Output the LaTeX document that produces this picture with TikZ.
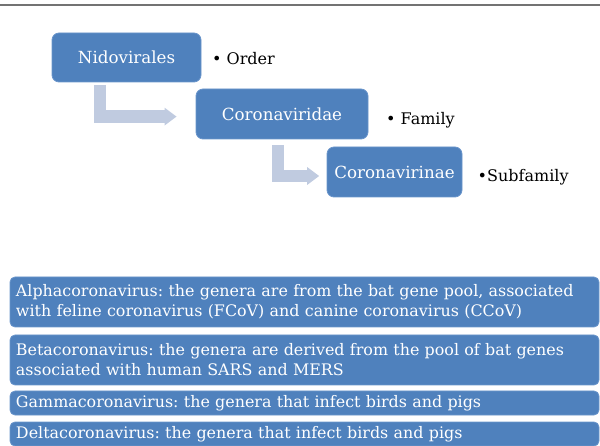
\documentclass[tikz,border=0pt]{standalone}
\usepackage{fontspec}
\setmainfont{DejaVu Serif}
\usetikzlibrary{arrows.meta}
\frenchspacing

\definecolor{taxonblue}{HTML}{4F81BD}
\definecolor{taxonedge}{HTML}{6A95CB}
\definecolor{bentblue}{HTML}{C0CBE0}
\definecolor{rulegray}{HTML}{737373}

\tikzset{
	taxon/.style={fill=taxonblue, draw=taxonedge, line width=0.8pt, rounded corners=7pt,
		text=white, inner sep=0pt, font=\fontsize{16.7}{20}\selectfont},
	rank/.style={anchor=base west, inner sep=0pt, font=\fontsize{16}{20}\selectfont},
	bent/.style={draw=bentblue, line width=12.5pt, line join=miter,
		-{Triangle[width=17pt,length=12pt]}},
	genus/.style={fill=taxonblue, draw=taxonedge, line width=0.8pt, rounded corners=5pt,
		text=white, minimum width=589pt, text width=577pt, align=left,
		inner xsep=6pt, inner ysep=0pt, font=\fontsize{15.9}{20}\selectfont},
}

\begin{document}
\begin{tikzpicture}[x=1pt, y=-1pt]
	\clip (0,0) rectangle (600,446);

	% rule at the top
	\draw[rulegray, line width=2.3pt] (0,4.7) -- (600,4.7);

	% taxonomy steps
	\node[taxon, minimum width=149pt, minimum height=49pt] (nido) at (126.5,57.5) {Nidovirales};
	\node[taxon, minimum width=172pt, minimum height=50pt] (famy) at (282,114) {Coronaviridae};
	\node[taxon, minimum width=135pt, minimum height=50pt] (subf) at (394.5,172) {Coronavirinae};

	\node[rank] (order) at (212,65) {• Order};
	\node[rank] (family) at (386,125) {• Family};
	\node[rank] (subfamily) at (477.5,181.7) {•Subfamily};

	\draw[bent] ([xshift=48.5pt,yshift=-3pt]nido.south west) |- ([xshift=-19pt,yshift=-2.6pt]famy.west);
	\draw[bent] ([xshift=82.5pt,yshift=-6pt]famy.south west) |- ([xshift=-7.4pt,yshift=-4pt]subf.west);

	% genera
	\node[genus, minimum height=50pt] (alpha) at (304.5,302) {Alphacoronavirus: the genera are from the bat gene pool, associated\\with feline coronavirus (FCoV) and canine coronavirus (CCoV)};
	\node[genus, minimum height=50pt] (beta) at (304.5,360) {Betacoronavirus: the genera are derived from the pool of bat genes\\associated with human SARS and MERS};
	\node[genus, minimum height=24pt] (gamma) at (304.5,403) {Gammacoronavirus: the genera that infect birds and pigs};
	\node[genus, minimum height=24pt] (delta) at (304.5,434) {Deltacoronavirus: the genera that infect birds and pigs};

\end{tikzpicture}
\end{document}
